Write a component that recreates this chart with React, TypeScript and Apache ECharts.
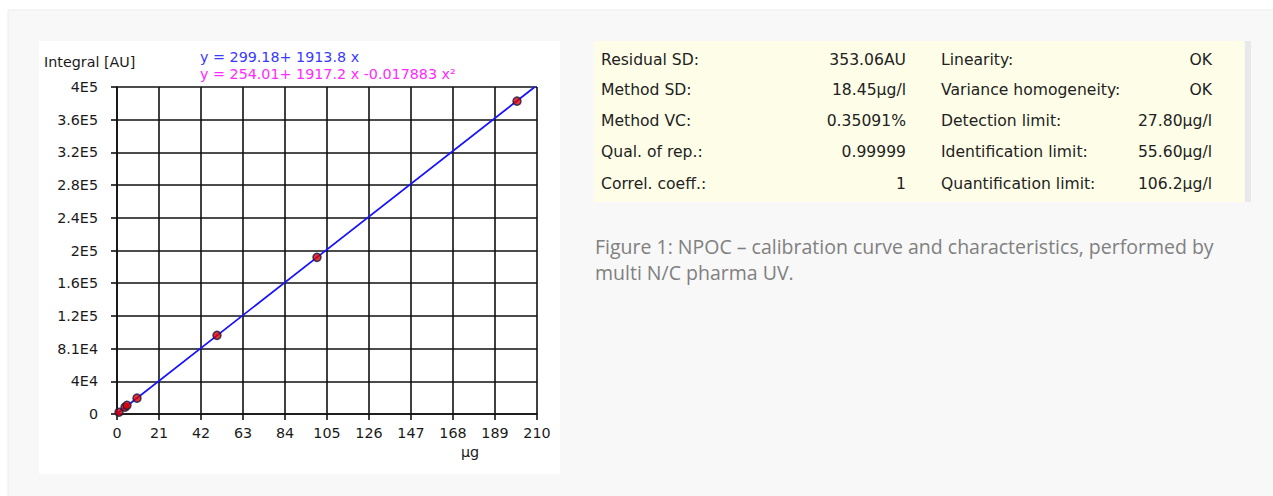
import React, { useEffect, useRef } from "react";
import * as echarts from "echarts";

const xTicks = [0, 21, 42, 63, 84, 105, 126, 147, 168, 189, 210];
const yTickLabels = ["0", "4E4", "8.1E4", "1.2E5", "1.6E5", "2E5", "2.4E5", "2.8E5", "3.2E5", "3.6E5", "4E5"];
const pointX = [1, 4, 5, 10, 50, 100, 200];
const pointY = [2200, 8300, 10600, 19400, 96200, 191600, 382700];
const fitLinearX = [0, 209];
const fitLinearY = [300, 400300];
const fitQuadX = [0, 209];
const fitQuadY = [254, 400200];
const eqLinear = "y = 299.18+ 1913.8 x";
const eqQuad = "y = 254.01+ 1917.2 x -0.017883 x²";
const yAxisName = "Integral [AU]";
const xAxisName = "µg";
const statLabelsLeft = ["Residual SD:", "Method SD:", "Method VC:", "Qual. of rep.:", "Correl. coeff.:"];
const statValuesLeft = ["353.06AU", "18.45µg/l", "0.35091%", "0.99999", "1"];
const statLabelsRight = ["Linearity:", "Variance homogeneity:", "Detection limit:", "Identification limit:", "Quantification limit:"];
const statValuesRight = ["OK", "OK", "27.80µg/l", "55.60µg/l", "106.2µg/l"];
const captionLines = [
  "Figure 1: NPOC – calibration curve and characteristics, performed by",
  "multi N/C pharma UV.",
];

const FONT = "DejaVu Sans";
const CHART_FS = 14.3;
const TABLE_FS = 15.6;

export default function App() {
  const ref = useRef<HTMLDivElement>(null);
  useEffect(() => {
    if (!ref.current) return;
    const chart = echarts.init(ref.current, undefined, { renderer: "svg" });
    const rowY = [60, 90, 121, 152, 184];
    const tableTexts: any[] = [];
    const tf = `${TABLE_FS}px '${FONT}'`;
    rowY.forEach((y, i) => {
      tableTexts.push(
        { type: "text", x: 601, y, style: { text: statLabelsLeft[i], font: tf, fill: "#222", textVerticalAlign: "middle" } },
        { type: "text", x: 906, y, style: { text: statValuesLeft[i], font: tf, fill: "#222", textAlign: "right", textVerticalAlign: "middle" } },
        { type: "text", x: 941, y, style: { text: statLabelsRight[i], font: tf, fill: "#222", textVerticalAlign: "middle" } },
        { type: "text", x: 1212, y, style: { text: statValuesRight[i], font: tf, fill: "#222", textAlign: "right", textVerticalAlign: "middle" } }
      );
    });
    const cf = `${CHART_FS}px '${FONT}'`;
    const capf = "19.5px 'Open Sans'";
    chart.setOption({
      animation: false,
      backgroundColor: "#ffffff",
      graphic: [
        { type: "rect", z: -10, shape: { x: 8, y: 10, width: 1280, height: 500 }, style: { fill: "#f8f8f8", stroke: "#ececec", lineWidth: 1 } },
        { type: "rect", z: -9, shape: { x: 39, y: 41, width: 521, height: 433 }, style: { fill: "#ffffff" } },
        { type: "rect", z: -9, shape: { x: 594, y: 41, width: 650, height: 161 }, style: { fill: "#fefee8" } },
        { type: "rect", z: -9, shape: { x: 1245, y: 41, width: 6, height: 161 }, style: { fill: "#e9e9e9" } },
        { type: "text", x: 44, y: 62, style: { text: yAxisName, font: cf, fill: "#1a1a1a", textVerticalAlign: "middle" } },
        { type: "text", x: 200, y: 57, style: { text: eqLinear, font: cf, fill: "#3a3aff", textVerticalAlign: "middle" } },
        { type: "text", x: 200, y: 74, style: { text: eqQuad, font: cf, fill: "#ff2aff", textVerticalAlign: "middle" } },
        { type: "text", x: 470, y: 452, style: { text: xAxisName, font: cf, fill: "#1a1a1a", textAlign: "center", textVerticalAlign: "middle" } },
        ...tableTexts,
        { type: "text", x: 595, y: 246, style: { text: captionLines[0], font: capf, fill: "#808080", textVerticalAlign: "middle" } },
        { type: "text", x: 595, y: 272, style: { text: captionLines[1], font: capf, fill: "#808080", textVerticalAlign: "middle" } },
      ],
      grid: { left: 117, top: 87, width: 420, height: 327, containLabel: false },
      xAxis: {
        type: "value",
        min: 0,
        max: 210,
        interval: 21,
        axisLine: { show: true, lineStyle: { color: "#111", width: 1.6 } },
        axisTick: { show: true, length: 6, lineStyle: { color: "#111", width: 1.6 } },
        splitLine: { show: true, lineStyle: { color: "#111", width: 1.6 } },
        axisLabel: {
          color: "#1a1a1a",
          fontFamily: FONT,
          fontSize: CHART_FS,
          margin: 12,
          formatter: (v: number) => String(xTicks[Math.round(v / 21)] ?? v),
        },
      },
      yAxis: {
        type: "value",
        min: 0,
        max: 400000,
        interval: 40000,
        axisLine: { show: true, lineStyle: { color: "#111", width: 1.6 } },
        axisTick: { show: true, length: 6, lineStyle: { color: "#111", width: 1.6 } },
        splitLine: { show: true, lineStyle: { color: "#111", width: 1.6 } },
        axisLabel: {
          color: "#1a1a1a",
          fontFamily: FONT,
          fontSize: CHART_FS,
          margin: 19,
          formatter: (v: number) => yTickLabels[Math.round(v / 40000)] ?? "",
        },
      },
      series: [
        {
          type: "line",
          data: fitQuadX.map((x, i) => [x, fitQuadY[i]]),
          showSymbol: false,
          lineStyle: { color: "#ff00ff", width: 1 },
          clip: true,
          z: 2,
        },
        {
          type: "line",
          data: fitLinearX.map((x, i) => [x, fitLinearY[i]]),
          showSymbol: false,
          lineStyle: { color: "#1515ff", width: 1.7 },
          clip: true,
          z: 3,
        },
        {
          type: "scatter",
          data: pointX.map((x, i) => [x, pointY[i]]),
          symbol: "circle",
          symbolSize: 8,
          itemStyle: { color: "#e00000", borderColor: "#1a1a40", borderWidth: 1.5 },
          z: 4,
        },
      ],
    });
    return () => chart.dispose();
  }, []);
  return (
    <div
      ref={ref}
      style={{ position: "absolute", left: 0, top: 0, width: 1273, height: 496 }}
    />
  );
}
